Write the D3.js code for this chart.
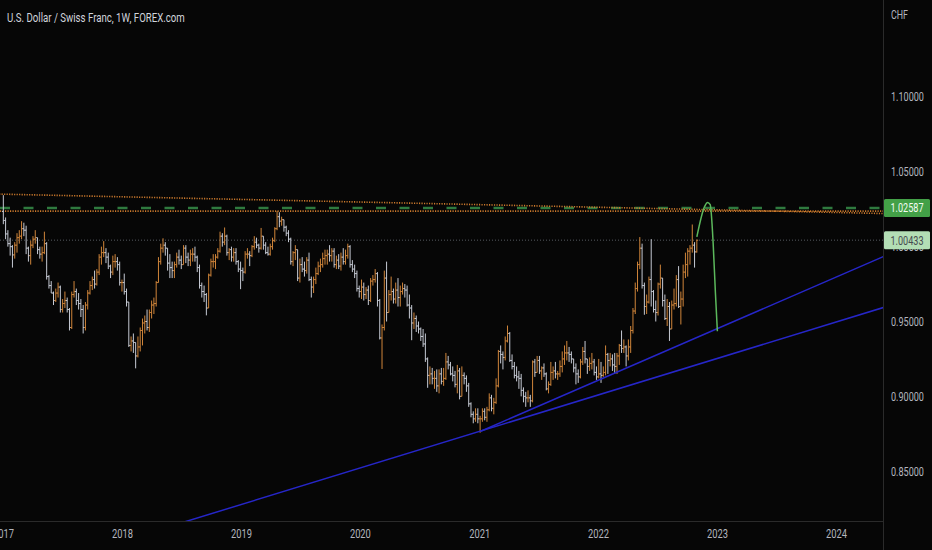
<!DOCTYPE html>
<html>
<head>
<meta charset="utf-8">
<script src="https://cdn.jsdelivr.net/npm/d3@7"></script>
<style>
html, body { margin: 0; padding: 0; background: #060606; overflow: hidden; }
svg { display: block; font-family: Roboto, 'Noto Sans', sans-serif; }
</style>
</head>
<body>
<svg id="chart"></svg>
<script>
// weekly USD/CHF bars as [high, low, close], one per week starting monday 2017-01-02
// (open of a week = close of the week before)
const firstWeek = '2017-01-02'
const firstOpen = 1.0235

const bars2017 = [
  [1.0344,1.0150,1.0175],[1.0195,1.0050,1.0085],[1.0110,1.0000,1.0020],[1.0060,0.9940,1.0000],[1.0010,0.9860,0.9945],
  [1.0030,0.9920,1.0010],[1.0090,0.9960,1.0060],[1.0110,1.0020,1.0070],[1.0170,1.0050,1.0120],
  [1.0160,1.0070,1.0110],[1.0140,0.9950,0.9990],[1.0000,0.9900,0.9940],[1.0040,0.9880,1.0010],
  [1.0070,0.9990,1.0050],[1.0110,1.0020,1.0060],[1.0060,0.9950,0.9980],[1.0000,0.9920,0.9950],
  [1.0000,0.9900,0.9960],[1.0100,0.9950,1.0020],[1.0030,0.9780,0.9800],[0.9810,0.9720,0.9740],[0.9770,0.9690,0.9690],
  [0.9700,0.9610,0.9640],[0.9720,0.9630,0.9690],[0.9760,0.9660,0.9730],[0.9740,0.9560,0.9580],
  [0.9650,0.9560,0.9620],[0.9700,0.9590,0.9640],[0.9660,0.9560,0.9580],[0.9590,0.9440,0.9460],[0.9700,0.9450,0.9680],
  [0.9770,0.9660,0.9700],[0.9720,0.9610,0.9640],[0.9690,0.9580,0.9620],[0.9650,0.9530,0.9580],
  [0.9610,0.9420,0.9460],[0.9630,0.9440,0.9610],[0.9710,0.9580,0.9690],[0.9770,0.9680,0.9740],
  [0.9800,0.9710,0.9780],[0.9840,0.9720,0.9750],[0.9850,0.9740,0.9830],[0.9950,0.9810,0.9930],[1.0000,0.9880,0.9960],
  [1.0037,0.9930,0.9960],[0.9990,0.9890,0.9930],[0.9960,0.9850,0.9870],[0.9880,0.9790,0.9830],
  [0.9940,0.9810,0.9900],[0.9950,0.9860,0.9900],[0.9930,0.9840,0.9880],[0.9900,0.9740,0.9760]
]
const bars2018 = [
  [0.9780,0.9700,0.9760],[0.9820,0.9680,0.9700],[0.9720,0.9600,0.9630],[0.9630,0.9330,0.9340],[0.9400,0.9300,0.9370],
  [0.9420,0.9290,0.9360],[0.9360,0.9187,0.9270],[0.9400,0.9260,0.9330],[0.9460,0.9300,0.9440],
  [0.9520,0.9340,0.9490],[0.9540,0.9420,0.9500],[0.9580,0.9440,0.9460],[0.9580,0.9430,0.9560],
  [0.9640,0.9520,0.9610],[0.9660,0.9550,0.9620],[0.9770,0.9600,0.9760],[0.9930,0.9760,0.9900],
  [1.0020,0.9880,0.9990],[1.0056,0.9960,1.0010],[1.0030,0.9940,0.9990],[0.9990,0.9840,0.9890],[0.9950,0.9790,0.9860],
  [0.9900,0.9790,0.9840],[0.9900,0.9790,0.9880],[0.9960,0.9860,0.9930],[0.9980,0.9880,0.9910],
  [0.9940,0.9850,0.9880],[1.0010,0.9880,0.9990],[1.0010,0.9890,0.9930],[0.9960,0.9870,0.9910],[0.9980,0.9870,0.9950],
  [0.9990,0.9900,0.9950],[1.0000,0.9900,0.9930],[0.9940,0.9830,0.9860],[0.9880,0.9720,0.9740],
  [0.9760,0.9660,0.9700],[0.9740,0.9630,0.9680],[0.9690,0.9541,0.9590],[0.9820,0.9590,0.9810],
  [0.9920,0.9800,0.9900],[0.9950,0.9860,0.9900],[0.9950,0.9850,0.9930],[0.9990,0.9920,0.9970],[1.0100,0.9960,1.0070],
  [1.0090,1.0000,1.0030],[1.0128,1.0010,1.0070],[1.0080,0.9940,0.9960],[0.9990,0.9910,0.9980],
  [1.0000,0.9900,0.9930],[0.9990,0.9900,0.9960],[0.9990,0.9880,0.9900],[0.9910,0.9830,0.9850]
]
const bars2019 = [
  [0.9900,0.9716,0.9840],[0.9860,0.9770,0.9830],[0.9970,0.9820,0.9950],[0.9990,0.9920,0.9950],[0.9970,0.9870,0.9940],
  [1.0010,0.9930,1.0000],[1.0070,0.9980,1.0030],[1.0060,0.9990,1.0010],[1.0020,0.9960,0.9990],
  [1.0125,0.9980,1.0070],[1.0070,0.9980,1.0010],[1.0030,0.9950,0.9960],[1.0000,0.9940,0.9950],
  [1.0020,0.9940,1.0000],[1.0060,0.9980,1.0040],[1.0130,1.0030,1.0120],[1.0237,1.0110,1.0200],[1.0230,1.0130,1.0170],
  [1.0200,1.0140,1.0180],[1.0180,1.0100,1.0130],[1.0140,1.0070,1.0090],[1.0110,1.0030,1.0050],
  [1.0060,0.9880,0.9900],[0.9970,0.9870,0.9960],[1.0010,0.9910,0.9980],[0.9980,0.9770,0.9790],
  [0.9920,0.9760,0.9880],[0.9930,0.9830,0.9850],[0.9900,0.9800,0.9840],[0.9930,0.9820,0.9910],[0.9960,0.9770,0.9780],
  [0.9800,0.9660,0.9730],[0.9800,0.9690,0.9780],[0.9860,0.9750,0.9820],[0.9900,0.9810,0.9870],
  [0.9920,0.9830,0.9880],[0.9960,0.9860,0.9920],[0.9980,0.9880,0.9940],[0.9980,0.9880,0.9950],
  [1.0010,0.9900,0.9940],[0.9990,0.9900,0.9970],[0.9990,0.9860,0.9880],[0.9940,0.9850,0.9910],[0.9950,0.9850,0.9870],
  [0.9960,0.9840,0.9930],[0.9990,0.9880,0.9900],[0.9980,0.9880,0.9940],[1.0020,0.9920,1.0000],
  [1.0010,0.9860,0.9880],[0.9910,0.9830,0.9850],[0.9880,0.9790,0.9820],[0.9840,0.9700,0.9720]
]
const bars2020 = [
  [0.9740,0.9660,0.9700],[0.9780,0.9650,0.9730],[0.9760,0.9640,0.9680],[0.9730,0.9650,0.9710],[0.9740,0.9610,0.9640],
  [0.9790,0.9630,0.9770],[0.9810,0.9740,0.9780],[0.9850,0.9760,0.9820],[0.9830,0.9600,0.9640],
  [0.9650,0.9380,0.9390],[0.9480,0.9183,0.9460],[0.9840,0.9440,0.9790],[0.9900,0.9500,0.9560],[0.9710,0.9560,0.9680],
  [0.9800,0.9640,0.9700],[0.9720,0.9620,0.9650],[0.9760,0.9620,0.9710],[0.9790,0.9600,0.9660],
  [0.9740,0.9600,0.9700],[0.9760,0.9680,0.9720],[0.9750,0.9660,0.9710],[0.9740,0.9600,0.9610],
  [0.9680,0.9520,0.9590],[0.9610,0.9375,0.9490],[0.9560,0.9450,0.9520],[0.9540,0.9430,0.9470],[0.9500,0.9420,0.9450],
  [0.9460,0.9370,0.9400],[0.9450,0.9330,0.9350],[0.9420,0.9230,0.9250],[0.9260,0.9057,0.9140],
  [0.9200,0.9080,0.9150],[0.9190,0.9080,0.9120],[0.9170,0.9050,0.9120],[0.9180,0.9030,0.9070],[0.9180,0.9020,0.9150],
  [0.9190,0.9080,0.9100],[0.9190,0.9070,0.9120],[0.9290,0.9110,0.9230],[0.9270,0.9180,0.9210],
  [0.9230,0.9140,0.9150],[0.9200,0.9100,0.9140],[0.9170,0.9060,0.9080],[0.9210,0.9020,0.9170],
  [0.9190,0.8980,0.9000],[0.9200,0.9000,0.9140],[0.9160,0.9080,0.9120],[0.9140,0.9030,0.9070],
  [0.9090,0.8930,0.8950],[0.8960,0.8860,0.8880],[0.8900,0.8820,0.8850],[0.8920,0.8830,0.8880]
]
const bars2021 = [
  [0.8920,0.8820,0.8850],[0.8870,0.8757,0.8850],[0.8920,0.8830,0.8900],[0.8920,0.8840,0.8860],[0.8930,0.8830,0.8910],
  [0.9020,0.8900,0.8990],[0.9010,0.8900,0.8920],[0.8990,0.8880,0.8960],[0.9120,0.8950,0.9070],
  [0.9310,0.9060,0.9300],[0.9340,0.9220,0.9280],[0.9300,0.9180,0.9260],[0.9400,0.9240,0.9370],[0.9473,0.9360,0.9420],
  [0.9430,0.9230,0.9240],[0.9280,0.9180,0.9200],[0.9230,0.9120,0.9140],[0.9200,0.9100,0.9130],
  [0.9170,0.9050,0.9120],[0.9150,0.9000,0.9040],[0.9060,0.8960,0.9000],[0.9030,0.8930,0.8990],
  [0.9040,0.8960,0.8990],[0.9010,0.8930,0.8970],[0.9240,0.8960,0.9230],[0.9250,0.9130,0.9160],
  [0.9270,0.9160,0.9240],[0.9270,0.9150,0.9170],[0.9200,0.9110,0.9190],[0.9220,0.9130,0.9150],[0.9160,0.9040,0.9050],
  [0.9100,0.9020,0.9080],[0.9230,0.9070,0.9160],[0.9200,0.9110,0.9170],[0.9230,0.9120,0.9150],
  [0.9170,0.9110,0.9150],[0.9240,0.9130,0.9200],[0.9300,0.9160,0.9250],[0.9340,0.9210,0.9290],
  [0.9370,0.9240,0.9290],[0.9330,0.9230,0.9280],[0.9300,0.9220,0.9250],[0.9250,0.9160,0.9190],[0.9220,0.9080,0.9150],
  [0.9180,0.9090,0.9130],[0.9250,0.9120,0.9230],[0.9330,0.9210,0.9300],[0.9370,0.9220,0.9250],
  [0.9250,0.9150,0.9200],[0.9260,0.9170,0.9220],[0.9290,0.9180,0.9230],[0.9250,0.9140,0.9160],[0.9200,0.9110,0.9130]
]
const bars2022 = [
  [0.9250,0.9120,0.9150],[0.9230,0.9090,0.9140],[0.9200,0.9130,0.9160],[0.9340,0.9140,0.9280],
  [0.9290,0.9150,0.9240],[0.9290,0.9200,0.9250],[0.9280,0.9170,0.9210],[0.9290,0.9150,0.9200],
  [0.9290,0.9150,0.9270],[0.9350,0.9210,0.9340],[0.9440,0.9290,0.9320],[0.9380,0.9290,0.9330],[0.9340,0.9200,0.9270],
  [0.9380,0.9240,0.9330],[0.9470,0.9290,0.9440],[0.9590,0.9420,0.9570],[0.9760,0.9550,0.9720],
  [0.9900,0.9700,0.9880],[1.0064,0.9850,0.9990],[1.0020,0.9720,0.9740],[0.9760,0.9545,0.9600],[0.9680,0.9550,0.9630],
  [0.9800,0.9620,0.9780],[1.0050,0.9600,0.9700],[0.9710,0.9560,0.9580],[0.9640,0.9500,0.9560],
  [0.9760,0.9540,0.9750],[0.9880,0.9720,0.9790],[0.9790,0.9600,0.9640],[0.9680,0.9510,0.9520],
  [0.9650,0.9470,0.9600],[0.9630,0.9370,0.9450],[0.9640,0.9450,0.9610],[0.9720,0.9580,0.9620],[0.9810,0.9600,0.9780],
  [0.9870,0.9590,0.9600],[0.9700,0.9480,0.9650],[0.9880,0.9600,0.9830],[0.9960,0.9790,0.9880],
  [0.9990,0.9800,0.9970],[1.0010,0.9880,0.9990],[1.0148,0.9960,1.0010],[1.0030,0.9860,0.9965],[1.0047,0.9960,1.0043]
]

const priceTicks = [0.85, 0.90, 0.95, 1.00, 1.05, 1.10]
const lastPrice = 1.00433
const targetPrice = 1.02587
const high2019 = 1.0237

// drawings, as [date, price]
const topTrend = [['2016-12-20', 1.0351], ['2024-06-01', 1.0221]]
const steepTrend = [['2021-01-06', 0.8767], ['2024-06-01', 0.9940]]
const longTrend = [['2018-06-01', 0.8134], ['2024-06-01', 0.9598]]
const projection = [
  ['2022-10-31', 1.0065], ['2022-11-24', 1.0269], ['2022-12-03', 1.0295], ['2022-12-11', 1.0280],
  ['2022-12-20', 1.0025], ['2022-12-27', 0.9691], ['2023-01-02', 0.9435]
]

let width = 932
let height = 550
let plotRight = 883
let plotBottom = 521

let parseDate = d3.utcParse('%Y-%m-%d')

let allBars = [].concat(bars2017, bars2018, bars2019, bars2020, bars2021, bars2022)
let weekStart = parseDate(firstWeek)
let ohlc = allBars.map((b, i) => {
    return {
        date: d3.utcMonday.offset(weekStart, i),
        open: i === 0 ? firstOpen : allBars[i - 1][2],
        high: b[0],
        low: b[1],
        close: b[2]
    }
})

let svg = d3.select('#chart')
            .attr('width', width)
            .attr('height', height)

svg.append('rect')
   .attr('width', width)
   .attr('height', height)
   .attr('fill', '#060606')

svg.append('defs')
   .append('clipPath')
   .attr('id', 'plot-area')
   .append('rect')
   .attr('width', plotRight)
   .attr('height', plotBottom)

let xScale = d3.scaleUtc()
               .domain([parseDate('2017-01-01'), parseDate('2024-01-01')])
               .range([3, 836])

let yScale = d3.scaleLinear()
               .domain([0.95, 1.05])
               .range([321.5, 171.8])

// the screenshot's lettering is narrow: squeeze a text to a given width
let condense = (sel, targetWidth, dx) => {
    sel.each(function () {
        let len = this.getComputedTextLength()
        let k = Math.min(1, targetWidth / len)
        d3.select(this).attr('transform', 'translate(' + (dx || 0) + ',0) scale(' + k + ',1)')
    })
}

let plot = svg.append('g').attr('clip-path', 'url(#plot-area)')

// horizontal levels
let hLine = (price, color, w, dash) => {
    plot.append('line')
        .attr('x1', 0)
        .attr('x2', plotRight)
        .attr('y1', yScale(price))
        .attr('y2', yScale(price))
        .attr('stroke', color)
        .attr('stroke-width', w)
        .attr('stroke-dasharray', dash)
}
hLine(lastPrice, '#555a60', 1, '1,2')
hLine(high2019, '#c9782c', 1.6, '1.2,1.3')
hLine(targetPrice, '#2f7a3f', 2.5, '10,13.5')

// ohlc bars
plot.selectAll('path.bar')
    .data(ohlc)
    .enter()
    .append('path')
    .attr('class', 'bar')
    .attr('d', (d) => {
        let x = xScale(d.date)
        return 'M' + x + ',' + yScale(d.high) + 'V' + yScale(d.low) +
               'M' + (x - 1.3) + ',' + yScale(d.open) + 'H' + x +
               'M' + x + ',' + yScale(d.close) + 'H' + (x + 1.3)
    })
    .attr('fill', 'none')
    .attr('stroke', (d) => d.close >= d.open ? '#d0853a' : '#c6cad4')
    .attr('stroke-width', 1)

let line = d3.line()
             .x((d) => xScale(parseDate(d[0])))
             .y((d) => yScale(d[1]))

plot.append('path')
    .attr('d', line(topTrend))
    .attr('fill', 'none')
    .attr('stroke', '#c9782c')
    .attr('stroke-width', 1.6)
    .attr('stroke-dasharray', '1.2,1.3')

let trendColor = '#2626c8'
plot.append('path')
    .attr('d', line(longTrend))
    .attr('fill', 'none')
    .attr('stroke', trendColor)
    .attr('stroke-width', 1.5)

plot.append('path')
    .attr('d', line(steepTrend))
    .attr('fill', 'none')
    .attr('stroke', trendColor)
    .attr('stroke-width', 1.5)

plot.append('path')
    .attr('d', line.curve(d3.curveMonotoneX)(projection))
    .attr('fill', 'none')
    .attr('stroke', '#5cb85c')
    .attr('stroke-width', 1.5)

// separators of the two axes
svg.append('line')
   .attr('x1', plotRight + 0.5).attr('x2', plotRight + 0.5)
   .attr('y1', 0).attr('y2', height)
   .attr('stroke', '#2a2a2a')
svg.append('line')
   .attr('x1', 0).attr('x2', plotRight)
   .attr('y1', plotBottom + 0.5).attr('y2', plotBottom + 0.5)
   .attr('stroke', '#2a2a2a')

// axes
let yAxis = d3.axisRight(yScale)
              .tickValues(priceTicks)
              .tickFormat(d3.format('.5f'))
              .tickSize(0)
              .tickPadding(0)

let yAxisG = svg.append('g')
                .attr('id', 'y-axis')
                .attr('transform', 'translate(' + plotRight + ', 0)')
                .call(yAxis)
yAxisG.select('.domain').remove()
yAxisG.selectAll('text')
      .attr('fill', '#b2b5be')
      .attr('font-size', 12.5)
      .attr('font-family', 'Roboto, sans-serif')
      .call(condense, 33, 8)

let xAxis = d3.axisBottom(xScale)
              .ticks(d3.utcYear)
              .tickFormat(d3.utcFormat('%Y'))
              .tickSize(0)
              .tickPadding(8)

let xAxisG = svg.append('g')
                .attr('id', 'x-axis')
                .attr('transform', 'translate(0, ' + plotBottom + ')')
                .call(xAxis)
xAxisG.select('.domain').remove()
xAxisG.selectAll('text')
      .attr('fill', '#b2b5be')
      .attr('font-size', 12.5)
      .attr('font-family', 'Roboto, sans-serif')
      .call(condense, 21)

// price labels on the axis
let priceLabel = (price, bg, fg) => {
    let y = yScale(price)
    svg.append('rect')
       .attr('x', plotRight + 1)
       .attr('y', y - 9)
       .attr('width', 46)
       .attr('height', 18)
       .attr('rx', 1.5)
       .attr('fill', bg)
    let g = svg.append('g').attr('transform', 'translate(' + (plotRight + 24) + ',' + y + ')')
    g.append('text')
     .attr('dy', '0.35em')
     .attr('text-anchor', 'middle')
     .attr('font-size', 12.5)
     .attr('fill', fg)
     .text(d3.format('.5f')(price))
     .call(condense, 33)
}
priceLabel(targetPrice, '#43a047', '#f2fbf2')
priceLabel(lastPrice, '#b3deb5', '#474b50')

// titles
svg.append('g')
   .attr('transform', 'translate(7, 21.5)')
   .append('text')
   .attr('font-size', 13)
   .attr('fill', '#d1d4dc')
   .text('U.S. Dollar / Swiss Franc, 1W, FOREX.com')
   .call(condense, 178)

svg.append('g')
   .attr('transform', 'translate(891, 18.5)')
   .append('text')
   .attr('font-size', 12.5)
   .attr('fill', '#b2b5be')
   .text('CHF')
   .call(condense, 17)
</script>
</body>
</html>
